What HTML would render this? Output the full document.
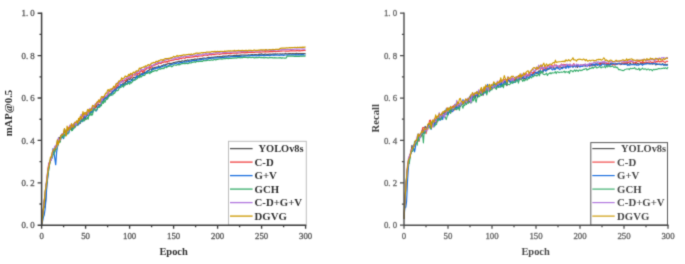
<!DOCTYPE html>
<html lang="en"><head><meta charset="utf-8"><title>Training curves: mAP@0.5 and Recall</title>
<style>
html,body{margin:0;padding:0;background:#fff}
body{width:685px;height:264px;overflow:hidden}
svg{display:block}
text{font-family:"Liberation Serif",serif}
.tk text{font-size:8.8px;stroke-width:.32px}
.lg text{font-size:10.75px;font-weight:bold}
.lg2 text{font-size:10.75px;font-weight:bold}
.ax{font-size:10.7px;font-weight:bold}
</style></head><body>
<svg width="685" height="264" viewBox="0 0 685 264">
<defs><filter id="soft" x="0" y="0" width="685" height="264" filterUnits="userSpaceOnUse" color-interpolation-filters="sRGB"><feConvolveMatrix order="3" kernelMatrix="1 4 1 4 20 4 1 4 1" edgeMode="duplicate" preserveAlpha="false"/></filter></defs>
<g filter="url(#soft)">
<rect width="685" height="264" fill="#fff"/>
<g id="left">
<polyline points="41.6,224.7 42.5,217.5 43.4,209.3 44.2,206.4 45.1,207.0 46.0,194.8 46.9,183.1 47.8,175.1 48.6,166.1 49.5,162.1 50.4,161.4 51.3,158.6 52.2,155.9 53.0,152.0 53.9,152.3 54.8,152.2 55.7,146.2 56.6,145.8 57.4,140.8 58.3,140.0 59.2,137.3 60.1,138.9 61.0,135.5 61.8,137.2 62.7,135.8 63.6,134.2 64.5,128.9 65.4,131.8 66.2,132.0 67.1,131.6 68.0,127.9 68.9,129.1 69.8,127.5 70.6,127.2 71.5,129.9 72.4,125.9 73.3,126.7 74.2,127.6 75.0,124.4 75.9,124.5 76.8,124.1 77.7,123.3 78.6,120.5 79.4,121.9 80.3,123.3 81.2,117.8 82.1,120.9 83.0,119.0 83.8,117.0 84.7,120.4 85.6,117.7 86.5,113.9 87.4,115.1 88.2,115.0 89.1,113.1 90.0,113.6 90.9,111.7 91.8,112.0 92.6,112.3 93.5,108.5 94.4,109.0 95.3,107.3 96.2,107.3 97.0,104.7 97.9,104.8 98.8,104.6 99.7,105.2 100.6,104.7 101.4,100.7 102.3,100.5 103.2,101.5 104.1,97.3 105.0,98.4 105.8,98.0 106.7,98.9 107.6,97.3 108.5,95.2 109.4,94.3 110.2,93.6 111.1,94.9 112.0,91.8 112.9,91.2 113.8,91.1 114.6,89.8 115.5,89.0 116.4,87.3 117.3,87.7 118.2,86.6 119.0,87.6 119.9,86.4 120.8,85.1 121.7,85.2 122.6,83.7 123.4,84.5 124.3,82.9 125.2,83.0 126.1,80.7 127.0,81.7 127.8,79.4 128.7,78.6 129.6,79.7 130.5,78.7 131.4,79.2 132.2,80.5 133.1,77.5 134.0,77.2 134.9,77.5 135.8,77.3 136.6,76.3 137.5,75.9 138.4,76.1 139.3,75.5 140.2,74.0 141.0,74.2 141.9,73.9 142.8,72.7 143.7,73.1 144.6,72.0 145.4,72.8 146.3,71.8 147.2,71.3 148.1,70.5 149.0,70.4 149.8,68.9 150.7,69.0 151.6,69.5 152.5,67.8 153.4,69.0 154.2,67.3 155.1,68.3 156.0,67.1 156.9,67.6 157.8,67.0 158.6,65.9 159.5,67.0 160.4,66.8 161.3,65.8 162.2,65.5 163.0,65.3 163.9,64.7 164.8,65.4 165.7,64.4 166.6,64.4 167.4,63.8 168.3,63.7 169.2,63.2 170.1,64.1 171.0,63.3 171.8,63.5 172.7,63.0 173.6,62.5 174.5,62.5 175.4,62.2 176.2,62.2 177.1,61.9 178.0,61.8 178.9,61.3 179.8,61.3 180.6,62.0 181.5,61.1 182.4,60.8 183.3,61.2 184.2,61.4 185.0,60.3 185.9,60.6 186.8,60.3 187.7,59.9 188.6,60.5 189.4,60.1 190.3,60.0 191.2,59.7 192.1,59.9 193.0,59.5 193.8,59.5 194.7,59.1 195.6,59.0 196.5,59.5 197.4,58.9 198.2,59.0 199.1,58.8 200.0,58.6 200.9,58.5 201.8,58.6 202.6,58.3 203.5,58.2 204.4,58.1 205.3,58.3 206.2,58.1 207.0,57.9 207.9,57.6 208.8,57.3 209.7,57.7 210.6,57.6 211.4,57.3 212.3,57.3 213.2,57.3 214.1,57.2 215.0,57.2 215.8,56.8 216.7,57.1 217.6,56.5 218.5,56.9 219.4,56.7 220.2,56.7 221.1,56.9 222.0,56.7 222.9,56.1 223.8,56.0 224.6,56.4 225.5,56.0 226.4,56.1 227.3,56.2 228.2,55.7 229.0,55.6 229.9,56.0 230.8,55.9 231.7,55.8 232.6,55.8 233.4,55.5 234.3,55.4 235.2,55.6 236.1,55.4 237.0,55.2 237.8,55.5 238.7,55.4 239.6,55.4 240.5,55.1 241.4,55.2 242.2,55.0 243.1,55.0 244.0,55.2 244.9,55.0 245.8,55.1 246.6,55.1 247.5,55.3 248.4,54.7 249.3,55.1 250.2,54.8 251.0,54.8 251.9,54.5 252.8,54.7 253.7,54.8 254.6,54.7 255.4,54.7 256.3,54.6 257.2,54.8 258.1,54.6 259.0,54.2 259.8,54.4 260.7,54.2 261.6,53.9 262.5,54.3 263.4,54.6 264.2,54.4 265.1,54.2 266.0,54.2 266.9,54.5 267.8,54.3 268.6,54.3 269.5,54.2 270.4,54.2 271.3,54.3 272.2,54.2 273.0,54.2 273.9,53.9 274.8,54.1 275.7,53.9 276.6,54.2 277.4,53.8 278.3,54.0 279.2,54.0 280.1,53.7 281.0,54.2 281.8,54.1 282.7,53.8 283.6,54.0 284.5,53.9 285.4,53.4 286.2,53.8 287.1,53.8 288.0,53.8 288.9,53.6 289.8,53.7 290.6,53.7 291.5,53.9 292.4,53.7 293.3,53.7 294.2,53.8 295.0,53.6 295.9,53.6 296.8,53.4 297.7,53.8 298.6,53.7 299.4,53.7 300.3,53.6 301.2,53.6 302.1,53.6 303.0,53.5 303.8,53.5 304.7,53.5 305.6,53.7" fill="none" stroke="#515151" stroke-width="1.2" stroke-linejoin="round"/>
<polyline points="41.6,224.7 42.5,217.0 43.4,208.7 44.2,200.3 45.1,195.2 46.0,186.5 46.9,178.5 47.8,171.3 48.6,164.2 49.5,162.5 50.4,161.5 51.3,156.3 52.2,154.4 53.0,152.6 53.9,151.8 54.8,146.8 55.7,147.6 56.6,144.2 57.4,145.4 58.3,140.2 59.2,141.1 60.1,141.4 61.0,136.5 61.8,134.7 62.7,135.0 63.6,133.6 64.5,130.9 65.4,132.8 66.2,134.9 67.1,130.0 68.0,129.4 68.9,127.1 69.8,128.9 70.6,125.4 71.5,125.0 72.4,128.6 73.3,124.1 74.2,126.8 75.0,126.9 75.9,124.0 76.8,123.7 77.7,125.3 78.6,121.0 79.4,119.5 80.3,117.5 81.2,119.1 82.1,120.6 83.0,119.0 83.8,115.1 84.7,114.5 85.6,114.2 86.5,114.7 87.4,113.1 88.2,112.9 89.1,112.2 90.0,110.5 90.9,110.1 91.8,109.7 92.6,108.4 93.5,108.4 94.4,109.6 95.3,106.9 96.2,105.4 97.0,102.2 97.9,104.2 98.8,100.3 99.7,100.2 100.6,102.4 101.4,101.3 102.3,99.4 103.2,96.5 104.1,97.4 105.0,96.1 105.8,96.9 106.7,98.0 107.6,94.6 108.5,92.6 109.4,91.3 110.2,91.8 111.1,90.8 112.0,88.8 112.9,89.5 113.8,87.3 114.6,89.0 115.5,88.1 116.4,87.4 117.3,85.0 118.2,85.4 119.0,84.0 119.9,83.1 120.8,82.5 121.7,81.0 122.6,80.3 123.4,81.9 124.3,80.4 125.2,80.3 126.1,80.5 127.0,77.5 127.8,77.8 128.7,78.2 129.6,77.9 130.5,76.8 131.4,77.5 132.2,76.3 133.1,74.7 134.0,74.5 134.9,75.4 135.8,74.7 136.6,72.4 137.5,74.5 138.4,73.5 139.3,73.5 140.2,71.8 141.0,71.4 141.9,70.4 142.8,72.5 143.7,70.2 144.6,70.9 145.4,69.0 146.3,69.1 147.2,67.5 148.1,67.9 149.0,68.3 149.8,66.6 150.7,67.6 151.6,66.8 152.5,65.6 153.4,65.6 154.2,65.2 155.1,65.1 156.0,64.5 156.9,64.1 157.8,64.1 158.6,63.4 159.5,63.0 160.4,63.4 161.3,63.5 162.2,62.1 163.0,62.6 163.9,62.1 164.8,61.7 165.7,62.2 166.6,61.4 167.4,62.1 168.3,60.9 169.2,61.1 170.1,60.7 171.0,60.3 171.8,60.6 172.7,60.1 173.6,60.2 174.5,59.8 175.4,59.2 176.2,59.4 177.1,59.3 178.0,59.5 178.9,58.7 179.8,58.8 180.6,58.1 181.5,58.7 182.4,58.0 183.3,57.7 184.2,58.1 185.0,58.3 185.9,57.4 186.8,57.4 187.7,57.4 188.6,57.2 189.4,57.5 190.3,57.1 191.2,57.0 192.1,57.2 193.0,56.7 193.8,56.9 194.7,56.5 195.6,56.3 196.5,56.1 197.4,56.8 198.2,56.2 199.1,56.2 200.0,56.0 200.9,56.0 201.8,55.8 202.6,56.1 203.5,55.4 204.4,55.2 205.3,55.2 206.2,55.0 207.0,55.3 207.9,55.3 208.8,54.8 209.7,54.6 210.6,54.7 211.4,55.0 212.3,54.1 213.2,54.7 214.1,54.3 215.0,54.6 215.8,54.1 216.7,54.2 217.6,53.9 218.5,54.0 219.4,54.4 220.2,54.2 221.1,53.9 222.0,53.8 222.9,53.5 223.8,53.7 224.6,53.7 225.5,53.7 226.4,53.6 227.3,53.4 228.2,53.5 229.0,53.5 229.9,53.7 230.8,53.7 231.7,53.3 232.6,53.2 233.4,53.2 234.3,53.1 235.2,53.0 236.1,53.1 237.0,52.9 237.8,53.1 238.7,53.0 239.6,53.0 240.5,52.9 241.4,52.7 242.2,52.7 243.1,52.7 244.0,52.7 244.9,52.8 245.8,52.7 246.6,52.4 247.5,52.6 248.4,52.3 249.3,52.4 250.2,52.5 251.0,52.1 251.9,52.5 252.8,52.4 253.7,52.3 254.6,52.3 255.4,52.2 256.3,52.1 257.2,52.2 258.1,52.1 259.0,52.1 259.8,51.9 260.7,52.1 261.6,52.0 262.5,51.9 263.4,51.9 264.2,52.0 265.1,51.6 266.0,51.9 266.9,51.8 267.8,51.8 268.6,51.8 269.5,51.6 270.4,51.6 271.3,51.7 272.2,51.6 273.0,51.6 273.9,51.3 274.8,51.5 275.7,51.6 276.6,51.5 277.4,51.4 278.3,51.1 279.2,51.4 280.1,51.2 281.0,50.9 281.8,51.2 282.7,51.0 283.6,51.0 284.5,51.0 285.4,51.2 286.2,51.0 287.1,51.1 288.0,51.2 288.9,51.2 289.8,50.9 290.6,50.9 291.5,50.7 292.4,50.8 293.3,50.9 294.2,50.8 295.0,50.8 295.9,50.9 296.8,50.6 297.7,50.7 298.6,50.8 299.4,50.7 300.3,50.8 301.2,50.7 302.1,50.6 303.0,50.6 303.8,50.4 304.7,50.3 305.6,50.6" fill="none" stroke="#F14040" stroke-width="1.2" stroke-linejoin="round"/>
<polyline points="41.6,224.7 42.5,221.6 43.4,217.1 44.2,215.1 45.1,209.0 46.0,199.2 46.9,184.3 47.8,177.2 48.6,169.3 49.5,164.5 50.4,159.5 51.3,158.2 52.2,157.6 53.0,148.6 53.9,152.4 54.8,158.3 55.7,164.6 56.6,152.5 57.4,147.1 58.3,143.5 59.2,141.8 60.1,141.2 61.0,137.3 61.8,137.0 62.7,137.6 63.6,138.6 64.5,133.7 65.4,133.1 66.2,132.8 67.1,134.2 68.0,131.0 68.9,133.0 69.8,127.9 70.6,128.7 71.5,128.1 72.4,129.2 73.3,129.0 74.2,123.9 75.0,124.3 75.9,125.7 76.8,123.3 77.7,121.2 78.6,124.8 79.4,123.1 80.3,122.4 81.2,120.0 82.1,121.8 83.0,119.0 83.8,120.3 84.7,116.4 85.6,115.8 86.5,116.7 87.4,114.5 88.2,115.8 89.1,114.4 90.0,111.9 90.9,112.6 91.8,111.2 92.6,112.3 93.5,109.3 94.4,108.8 95.3,110.4 96.2,111.0 97.0,109.9 97.9,106.5 98.8,105.9 99.7,106.9 100.6,103.9 101.4,101.9 102.3,102.5 103.2,102.1 104.1,99.7 105.0,97.8 105.8,97.2 106.7,99.0 107.6,96.4 108.5,96.3 109.4,95.9 110.2,95.5 111.1,93.6 112.0,93.8 112.9,91.4 113.8,91.2 114.6,89.7 115.5,91.3 116.4,89.3 117.3,87.9 118.2,87.6 119.0,87.1 119.9,87.4 120.8,84.5 121.7,84.5 122.6,84.6 123.4,86.9 124.3,84.8 125.2,83.3 126.1,83.5 127.0,84.3 127.8,81.7 128.7,81.1 129.6,82.0 130.5,81.0 131.4,80.7 132.2,79.2 133.1,80.8 134.0,80.2 134.9,78.8 135.8,78.5 136.6,75.9 137.5,77.6 138.4,76.5 139.3,76.5 140.2,76.3 141.0,75.1 141.9,73.7 142.8,74.8 143.7,73.6 144.6,73.4 145.4,72.9 146.3,72.6 147.2,71.0 148.1,72.8 149.0,71.8 149.8,71.9 150.7,72.0 151.6,70.5 152.5,69.1 153.4,69.2 154.2,68.7 155.1,68.8 156.0,68.7 156.9,67.4 157.8,68.3 158.6,67.1 159.5,67.7 160.4,67.2 161.3,66.9 162.2,66.7 163.0,66.3 163.9,66.0 164.8,65.3 165.7,65.8 166.6,66.4 167.4,66.2 168.3,65.7 169.2,65.2 170.1,64.4 171.0,65.1 171.8,64.3 172.7,64.1 173.6,63.8 174.5,63.8 175.4,63.4 176.2,63.4 177.1,62.8 178.0,62.9 178.9,63.7 179.8,62.7 180.6,62.5 181.5,62.7 182.4,62.6 183.3,61.8 184.2,62.0 185.0,62.2 185.9,61.9 186.8,61.7 187.7,62.0 188.6,61.2 189.4,61.3 190.3,61.0 191.2,61.4 192.1,60.4 193.0,60.6 193.8,60.5 194.7,60.7 195.6,60.6 196.5,60.6 197.4,59.8 198.2,60.2 199.1,59.9 200.0,59.7 200.9,59.8 201.8,59.4 202.6,59.0 203.5,59.3 204.4,58.9 205.3,59.0 206.2,59.1 207.0,59.0 207.9,59.1 208.8,58.6 209.7,58.3 210.6,58.3 211.4,58.2 212.3,58.0 213.2,58.3 214.1,58.0 215.0,57.6 215.8,58.1 216.7,57.9 217.6,57.9 218.5,57.8 219.4,57.8 220.2,57.6 221.1,57.8 222.0,57.6 222.9,57.5 223.8,57.4 224.6,57.0 225.5,57.2 226.4,57.1 227.3,57.1 228.2,56.8 229.0,57.3 229.9,57.0 230.8,56.6 231.7,56.5 232.6,56.7 233.4,56.7 234.3,56.5 235.2,56.6 236.1,56.4 237.0,56.6 237.8,56.3 238.7,56.4 239.6,56.5 240.5,56.8 241.4,56.1 242.2,56.1 243.1,56.0 244.0,56.3 244.9,55.9 245.8,56.0 246.6,56.0 247.5,55.8 248.4,55.8 249.3,55.8 250.2,55.5 251.0,55.6 251.9,55.7 252.8,55.7 253.7,55.7 254.6,55.4 255.4,55.6 256.3,55.8 257.2,55.7 258.1,55.6 259.0,55.4 259.8,55.6 260.7,55.4 261.6,55.3 262.5,55.3 263.4,55.7 264.2,55.4 265.1,55.6 266.0,55.3 266.9,55.5 267.8,55.2 268.6,55.3 269.5,55.7 270.4,55.4 271.3,55.2 272.2,55.2 273.0,55.2 273.9,55.4 274.8,55.1 275.7,54.9 276.6,55.1 277.4,55.1 278.3,55.1 279.2,55.3 280.1,55.1 281.0,55.1 281.8,54.9 282.7,55.1 283.6,55.3 284.5,55.1 285.4,55.0 286.2,55.0 287.1,55.2 288.0,54.8 288.9,54.9 289.8,54.9 290.6,55.0 291.5,54.8 292.4,54.9 293.3,54.8 294.2,54.8 295.0,54.8 295.9,54.7 296.8,54.8 297.7,54.9 298.6,54.7 299.4,54.8 300.3,54.9 301.2,54.6 302.1,54.8 303.0,54.6 303.8,54.9 304.7,55.0 305.6,55.0" fill="none" stroke="#1A6FDF" stroke-width="1.2" stroke-linejoin="round"/>
<polyline points="41.6,224.7 42.5,218.1 43.4,210.0 44.2,201.8 45.1,196.0 46.0,184.8 46.9,181.3 47.8,173.1 48.6,170.8 49.5,164.5 50.4,159.8 51.3,159.2 52.2,158.0 53.0,154.7 53.9,154.2 54.8,150.6 55.7,145.5 56.6,149.4 57.4,146.7 58.3,143.6 59.2,141.8 60.1,142.2 61.0,137.9 61.8,136.2 62.7,136.0 63.6,137.7 64.5,131.9 65.4,135.9 66.2,131.8 67.1,130.3 68.0,133.9 68.9,130.7 69.8,127.9 70.6,129.0 71.5,130.7 72.4,130.5 73.3,127.0 74.2,127.9 75.0,127.7 75.9,124.7 76.8,125.7 77.7,124.4 78.6,122.8 79.4,122.2 80.3,122.4 81.2,121.6 82.1,120.0 83.0,119.5 83.8,121.2 84.7,119.0 85.6,119.3 86.5,119.1 87.4,117.4 88.2,119.2 89.1,113.7 90.0,115.4 90.9,113.0 91.8,115.4 92.6,114.4 93.5,108.4 94.4,109.1 95.3,110.7 96.2,110.1 97.0,109.3 97.9,107.4 98.8,107.4 99.7,106.9 100.6,105.1 101.4,105.7 102.3,100.6 103.2,103.5 104.1,100.6 105.0,102.3 105.8,99.9 106.7,98.3 107.6,99.0 108.5,96.6 109.4,95.8 110.2,94.2 111.1,95.2 112.0,95.0 112.9,94.8 113.8,92.7 114.6,93.3 115.5,91.4 116.4,90.6 117.3,90.6 118.2,90.4 119.0,88.3 119.9,87.8 120.8,87.3 121.7,86.9 122.6,85.4 123.4,86.8 124.3,84.9 125.2,85.2 126.1,83.5 127.0,84.1 127.8,83.7 128.7,82.5 129.6,84.2 130.5,82.3 131.4,83.0 132.2,81.9 133.1,80.1 134.0,79.9 134.9,80.2 135.8,79.5 136.6,79.0 137.5,78.4 138.4,76.8 139.3,77.6 140.2,75.7 141.0,77.2 141.9,76.0 142.8,75.6 143.7,75.5 144.6,75.4 145.4,73.9 146.3,73.3 147.2,73.4 148.1,72.4 149.0,72.6 149.8,73.7 150.7,71.8 151.6,72.4 152.5,70.9 153.4,71.5 154.2,70.8 155.1,70.6 156.0,70.6 156.9,70.9 157.8,69.8 158.6,69.5 159.5,68.7 160.4,69.2 161.3,68.5 162.2,68.7 163.0,68.1 163.9,68.7 164.8,66.8 165.7,67.3 166.6,67.6 167.4,66.8 168.3,66.4 169.2,66.4 170.1,65.7 171.0,66.2 171.8,66.9 172.7,66.2 173.6,65.1 174.5,65.0 175.4,65.0 176.2,65.4 177.1,64.6 178.0,64.5 178.9,64.9 179.8,64.7 180.6,64.1 181.5,63.7 182.4,63.5 183.3,63.6 184.2,63.0 185.0,63.8 185.9,63.2 186.8,63.4 187.7,63.7 188.6,63.4 189.4,62.5 190.3,63.0 191.2,62.9 192.1,62.3 193.0,62.1 193.8,62.2 194.7,61.7 195.6,62.4 196.5,61.3 197.4,61.5 198.2,61.6 199.1,61.5 200.0,61.4 200.9,61.3 201.8,61.1 202.6,61.3 203.5,60.4 204.4,60.8 205.3,60.5 206.2,60.6 207.0,60.5 207.9,60.1 208.8,60.1 209.7,60.3 210.6,60.1 211.4,59.7 212.3,60.2 213.2,60.2 214.1,59.3 215.0,59.6 215.8,60.0 216.7,59.5 217.6,59.3 218.5,59.2 219.4,59.0 220.2,59.0 221.1,58.9 222.0,59.1 222.9,58.8 223.8,58.7 224.6,58.5 225.5,58.7 226.4,58.4 227.3,58.5 228.2,58.7 229.0,58.5 229.9,58.5 230.8,58.4 231.7,58.3 232.6,58.2 233.4,58.1 234.3,58.2 235.2,57.8 236.1,58.2 237.0,57.9 237.8,57.7 238.7,57.7 239.6,57.7 240.5,57.8 241.4,57.5 242.2,57.8 243.1,57.4 244.0,57.1 244.9,57.4 245.8,57.2 246.6,57.5 247.5,57.7 248.4,57.6 249.3,57.2 250.2,57.3 251.0,57.7 251.9,57.5 252.8,57.4 253.7,57.6 254.6,57.9 255.4,57.7 256.3,57.5 257.2,57.6 258.1,57.6 259.0,57.4 259.8,57.4 260.7,57.6 261.6,57.4 262.5,57.6 263.4,57.6 264.2,58.0 265.1,57.5 266.0,57.6 266.9,57.6 267.8,57.8 268.6,57.9 269.5,57.7 270.4,57.6 271.3,57.5 272.2,57.6 273.0,57.9 273.9,57.8 274.8,57.7 275.7,57.8 276.6,57.9 277.4,58.0 278.3,57.8 279.2,57.9 280.1,57.7 281.0,57.8 281.8,58.3 282.7,57.7 283.6,58.0 284.5,58.1 285.4,58.1 286.2,58.0 287.1,56.2 288.0,56.2 288.9,56.2 289.8,56.0 290.6,56.2 291.5,56.1 292.4,56.1 293.3,56.2 294.2,56.3 295.0,56.3 295.9,56.1 296.8,56.3 297.7,56.3 298.6,56.3 299.4,56.4 300.3,56.2 301.2,56.2 302.1,56.3 303.0,56.0 303.8,56.2 304.7,56.1 305.6,56.2" fill="none" stroke="#37AD6B" stroke-width="1.2" stroke-linejoin="round"/>
<polyline points="41.6,224.7 42.5,216.3 43.4,209.0 44.2,201.7 45.1,194.2 46.0,185.4 46.9,177.8 47.8,170.1 48.6,167.0 49.5,161.8 50.4,160.5 51.3,160.3 52.2,154.4 53.0,149.6 53.9,149.4 54.8,146.6 55.7,145.3 56.6,148.1 57.4,143.7 58.3,138.2 59.2,140.8 60.1,140.5 61.0,135.9 61.8,134.1 62.7,133.6 63.6,133.7 64.5,133.5 65.4,133.7 66.2,132.9 67.1,132.2 68.0,131.7 68.9,129.7 69.8,125.0 70.6,126.9 71.5,127.0 72.4,125.1 73.3,126.7 74.2,123.7 75.0,122.1 75.9,125.4 76.8,123.3 77.7,121.8 78.6,122.2 79.4,121.6 80.3,119.6 81.2,114.3 82.1,116.4 83.0,115.9 83.8,114.3 84.7,115.4 85.6,116.1 86.5,112.7 87.4,110.9 88.2,114.8 89.1,110.3 90.0,108.3 90.9,109.6 91.8,109.1 92.6,106.6 93.5,107.9 94.4,105.3 95.3,103.8 96.2,104.5 97.0,104.5 97.9,101.8 98.8,102.3 99.7,100.9 100.6,103.9 101.4,98.4 102.3,100.3 103.2,97.6 104.1,96.6 105.0,96.8 105.8,96.1 106.7,95.7 107.6,93.7 108.5,91.7 109.4,90.9 110.2,91.3 111.1,90.5 112.0,90.6 112.9,88.6 113.8,88.5 114.6,88.2 115.5,86.0 116.4,83.5 117.3,83.1 118.2,82.1 119.0,84.6 119.9,81.4 120.8,82.9 121.7,81.6 122.6,82.1 123.4,80.9 124.3,79.3 125.2,78.6 126.1,78.4 127.0,77.9 127.8,76.8 128.7,76.7 129.6,77.7 130.5,74.3 131.4,75.5 132.2,74.1 133.1,74.5 134.0,74.6 134.9,73.4 135.8,73.6 136.6,71.3 137.5,72.9 138.4,71.2 139.3,71.6 140.2,70.8 141.0,68.4 141.9,69.3 142.8,69.5 143.7,69.9 144.6,68.6 145.4,68.1 146.3,66.6 147.2,68.0 148.1,67.8 149.0,66.3 149.8,65.7 150.7,64.5 151.6,65.6 152.5,66.2 153.4,64.7 154.2,64.7 155.1,63.9 156.0,62.8 156.9,63.7 157.8,62.1 158.6,62.3 159.5,62.3 160.4,62.3 161.3,61.8 162.2,61.5 163.0,60.8 163.9,60.3 164.8,60.6 165.7,60.1 166.6,59.6 167.4,59.4 168.3,59.5 169.2,58.7 170.1,58.7 171.0,58.4 171.8,58.9 172.7,58.8 173.6,59.3 174.5,57.7 175.4,57.9 176.2,58.3 177.1,57.7 178.0,57.5 178.9,58.1 179.8,57.2 180.6,56.8 181.5,56.6 182.4,57.0 183.3,56.9 184.2,56.2 185.0,56.2 185.9,56.5 186.8,56.4 187.7,56.0 188.6,56.2 189.4,56.1 190.3,55.3 191.2,55.6 192.1,55.7 193.0,55.3 193.8,54.8 194.7,55.2 195.6,55.3 196.5,55.4 197.4,54.4 198.2,55.4 199.1,54.5 200.0,54.8 200.9,54.8 201.8,54.6 202.6,54.3 203.5,53.9 204.4,54.2 205.3,53.8 206.2,53.3 207.0,54.4 207.9,53.8 208.8,54.0 209.7,53.3 210.6,53.7 211.4,53.7 212.3,53.6 213.2,53.2 214.1,52.9 215.0,53.0 215.8,52.5 216.7,52.6 217.6,52.9 218.5,52.6 219.4,52.7 220.2,52.7 221.1,53.0 222.0,52.8 222.9,52.5 223.8,52.7 224.6,52.3 225.5,52.3 226.4,52.5 227.3,52.0 228.2,52.2 229.0,51.9 229.9,52.1 230.8,52.4 231.7,51.9 232.6,52.0 233.4,51.8 234.3,51.7 235.2,51.6 236.1,52.1 237.0,52.2 237.8,51.8 238.7,51.6 239.6,51.8 240.5,51.6 241.4,51.7 242.2,51.6 243.1,51.6 244.0,51.6 244.9,51.3 245.8,51.3 246.6,51.1 247.5,51.3 248.4,51.1 249.3,51.2 250.2,51.1 251.0,51.2 251.9,51.3 252.8,50.9 253.7,51.0 254.6,50.9 255.4,51.1 256.3,51.2 257.2,51.1 258.1,50.8 259.0,51.1 259.8,50.5 260.7,51.0 261.6,50.6 262.5,50.2 263.4,51.0 264.2,50.8 265.1,50.4 266.0,50.5 266.9,50.4 267.8,50.4 268.6,50.1 269.5,50.2 270.4,50.3 271.3,50.3 272.2,50.4 273.0,50.1 273.9,50.4 274.8,49.9 275.7,50.1 276.6,49.7 277.4,49.8 278.3,50.1 279.2,49.7 280.1,49.9 281.0,49.8 281.8,49.6 282.7,49.7 283.6,49.6 284.5,49.6 285.4,49.7 286.2,49.7 287.1,49.4 288.0,49.4 288.9,49.5 289.8,49.4 290.6,49.5 291.5,49.7 292.4,49.4 293.3,49.3 294.2,49.2 295.0,49.1 295.9,49.1 296.8,49.0 297.7,49.1 298.6,49.1 299.4,49.2 300.3,49.0 301.2,49.0 302.1,48.9 303.0,49.2 303.8,49.0 304.7,49.1 305.6,49.0" fill="none" stroke="#B177DE" stroke-width="1.2" stroke-linejoin="round"/>
<polyline points="41.6,224.7 42.5,216.6 43.4,209.5 44.2,203.5 45.1,191.1 46.0,187.0 46.9,180.7 47.8,172.1 48.6,167.4 49.5,164.6 50.4,157.4 51.3,157.1 52.2,152.2 53.0,150.8 53.9,149.4 54.8,148.8 55.7,147.5 56.6,145.9 57.4,139.9 58.3,144.7 59.2,141.4 60.1,139.0 61.0,135.5 61.8,134.7 62.7,134.8 63.6,133.5 64.5,128.6 65.4,132.4 66.2,135.8 67.1,126.0 68.0,130.6 68.9,128.7 69.8,127.1 70.6,129.1 71.5,123.7 72.4,125.5 73.3,127.1 74.2,123.4 75.0,122.3 75.9,122.5 76.8,120.7 77.7,123.4 78.6,118.4 79.4,120.7 80.3,116.3 81.2,118.7 82.1,116.6 83.0,111.7 83.8,115.1 84.7,112.6 85.6,112.7 86.5,115.1 87.4,110.0 88.2,109.3 89.1,112.3 90.0,109.4 90.9,110.7 91.8,108.0 92.6,105.4 93.5,105.7 94.4,106.8 95.3,105.5 96.2,103.3 97.0,102.5 97.9,101.5 98.8,100.0 99.7,102.6 100.6,99.1 101.4,96.7 102.3,96.8 103.2,97.5 104.1,96.5 105.0,94.6 105.8,93.1 106.7,93.1 107.6,90.1 108.5,89.7 109.4,91.4 110.2,89.0 111.1,89.1 112.0,89.3 112.9,87.8 113.8,86.2 114.6,87.8 115.5,85.4 116.4,83.5 117.3,83.9 118.2,82.8 119.0,80.8 119.9,81.1 120.8,80.3 121.7,77.8 122.6,79.1 123.4,78.4 124.3,77.7 125.2,76.0 126.1,76.7 127.0,76.4 127.8,76.1 128.7,74.4 129.6,75.5 130.5,73.4 131.4,73.8 132.2,74.6 133.1,72.4 134.0,72.1 134.9,73.0 135.8,71.3 136.6,70.9 137.5,70.9 138.4,71.0 139.3,68.1 140.2,68.7 141.0,68.1 141.9,67.6 142.8,67.3 143.7,66.9 144.6,67.2 145.4,65.9 146.3,66.1 147.2,65.9 148.1,64.7 149.0,64.9 149.8,65.4 150.7,64.2 151.6,63.2 152.5,63.2 153.4,62.4 154.2,62.7 155.1,62.6 156.0,61.4 156.9,61.4 157.8,61.8 158.6,60.7 159.5,60.8 160.4,59.9 161.3,59.8 162.2,59.6 163.0,60.6 163.9,59.2 164.8,58.9 165.7,58.6 166.6,58.6 167.4,58.7 168.3,58.3 169.2,58.9 170.1,57.9 171.0,58.2 171.8,57.5 172.7,57.4 173.6,56.4 174.5,56.8 175.4,56.6 176.2,56.4 177.1,55.5 178.0,56.4 178.9,55.8 179.8,55.7 180.6,55.6 181.5,55.4 182.4,55.5 183.3,54.8 184.2,54.8 185.0,55.1 185.9,54.9 186.8,54.7 187.7,54.5 188.6,54.3 189.4,54.4 190.3,54.7 191.2,53.9 192.1,54.5 193.0,54.2 193.8,53.8 194.7,54.0 195.6,53.3 196.5,53.2 197.4,53.2 198.2,53.3 199.1,53.2 200.0,53.1 200.9,53.1 201.8,52.5 202.6,53.0 203.5,52.5 204.4,52.5 205.3,52.5 206.2,52.2 207.0,52.1 207.9,52.1 208.8,52.2 209.7,52.2 210.6,52.1 211.4,51.7 212.3,51.7 213.2,51.6 214.1,51.8 215.0,51.3 215.8,51.9 216.7,51.5 217.6,51.3 218.5,51.5 219.4,51.6 220.2,51.4 221.1,51.5 222.0,51.3 222.9,51.5 223.8,51.5 224.6,51.1 225.5,51.4 226.4,51.1 227.3,51.1 228.2,50.9 229.0,50.9 229.9,51.1 230.8,50.7 231.7,51.0 232.6,50.9 233.4,50.9 234.3,50.4 235.2,50.8 236.1,50.9 237.0,50.6 237.8,50.7 238.7,50.3 239.6,50.8 240.5,50.5 241.4,50.8 242.2,50.3 243.1,50.7 244.0,50.5 244.9,50.7 245.8,50.4 246.6,50.4 247.5,50.9 248.4,50.3 249.3,50.3 250.2,50.4 251.0,50.3 251.9,50.6 252.8,50.7 253.7,50.2 254.6,50.0 255.4,50.5 256.3,50.4 257.2,50.3 258.1,50.4 259.0,50.0 259.8,50.1 260.7,49.8 261.6,49.8 262.5,50.1 263.4,49.8 264.2,50.3 265.1,49.9 266.0,49.7 266.9,49.9 267.8,50.0 268.6,49.8 269.5,49.5 270.4,49.7 271.3,49.8 272.2,49.5 273.0,49.4 273.9,49.7 274.8,49.5 275.7,49.3 276.6,49.4 277.4,49.3 278.3,49.4 279.2,49.3 280.1,48.4 281.0,48.3 281.8,48.0 282.7,48.2 283.6,48.2 284.5,48.1 285.4,48.2 286.2,47.9 287.1,47.8 288.0,48.0 288.9,47.7 289.8,47.5 290.6,47.9 291.5,47.6 292.4,47.7 293.3,47.5 294.2,47.5 295.0,47.4 295.9,47.5 296.8,47.6 297.7,47.2 298.6,47.5 299.4,47.3 300.3,47.3 301.2,47.4 302.1,47.3 303.0,47.1 303.8,47.5 304.7,47.1 305.6,47.2" fill="none" stroke="#CC9900" stroke-width="1.2" stroke-linejoin="round"/>
<rect x="228.5" y="141.3" width="77.8" height="83.9" fill="#fff" stroke="#bdbdbd" stroke-width="1"/>
<g class="lg" fill="#2e2e2e">
<path d="M230.0 148.6H252.6" stroke="#515151" stroke-width="1.3" fill="none"/>
<text x="258.6" y="152.2" textLength="45" lengthAdjust="spacingAndGlyphs">YOLOv8s</text>
<path d="M230.0 162.1H252.6" stroke="#F14040" stroke-width="1.3" fill="none"/>
<text x="254.6" y="165.7">C-D</text>
<path d="M230.0 175.6H252.6" stroke="#1A6FDF" stroke-width="1.3" fill="none"/>
<text x="254.6" y="179.2">G+V</text>
<path d="M230.0 189.1H252.6" stroke="#37AD6B" stroke-width="1.3" fill="none"/>
<text x="254.6" y="192.7">GCH</text>
<path d="M230.0 202.6H252.6" stroke="#B177DE" stroke-width="1.3" fill="none"/>
<text x="254.6" y="206.2">C-D+G+V</text>
<path d="M230.0 216.1H252.6" stroke="#CC9900" stroke-width="1.3" fill="none"/>
<text x="254.6" y="219.7">DGVG</text>
</g>
<path d="M41.6 12.6V225.2H306.2" fill="none" stroke="#3c3c3c" stroke-width="1.5"/>
<path d="M41.6 225.2h-4.0M41.6 204.0h-2.1M41.6 182.8h-4.0M41.6 161.6h-2.1M41.6 140.4h-4.0M41.6 119.2h-2.1M41.6 98.0h-4.0M41.6 76.8h-2.1M41.6 55.6h-4.0M41.6 34.4h-2.1M41.6 13.2h-4.0M41.6 225.2v3.6M63.6 225.2v2.0M85.6 225.2v3.6M107.6 225.2v2.0M129.6 225.2v3.6M151.6 225.2v2.0M173.6 225.2v3.6M195.6 225.2v2.0M217.6 225.2v3.6M239.6 225.2v2.0M261.6 225.2v3.6M283.6 225.2v2.0M305.6 225.2v3.6" fill="none" stroke="#3c3c3c" stroke-width="1.35"/>
<g class="tk" fill="#5a5a5a" stroke="#5a5a5a">
<text transform="translate(34.7 228.4) scale(1 1)" text-anchor="end" xml:space="preserve">0. 0</text>
<text transform="translate(34.7 186.0) scale(1 1)" text-anchor="end" xml:space="preserve">0. 2</text>
<text transform="translate(34.7 143.6) scale(1 1)" text-anchor="end" xml:space="preserve">0. 4</text>
<text transform="translate(34.7 101.2) scale(1 1)" text-anchor="end" xml:space="preserve">0. 6</text>
<text transform="translate(34.7 58.8) scale(1 1)" text-anchor="end" xml:space="preserve">0. 8</text>
<text transform="translate(34.7 16.4) scale(1 1)" text-anchor="end" xml:space="preserve">1. 0</text>
<text transform="translate(41.6 239.3) scale(1 1)" text-anchor="middle">0</text>
<text transform="translate(85.6 239.3) scale(1 1)" text-anchor="middle">50</text>
<text transform="translate(129.6 239.3) scale(1 1)" text-anchor="middle">100</text>
<text transform="translate(173.6 239.3) scale(1 1)" text-anchor="middle">150</text>
<text transform="translate(217.6 239.3) scale(1 1)" text-anchor="middle">200</text>
<text transform="translate(261.6 239.3) scale(1 1)" text-anchor="middle">250</text>
<text transform="translate(305.6 239.3) scale(1 1)" text-anchor="middle">300</text>
</g>
<text class="ax" fill="#2e2e2e" transform="translate(11.6 136.3) rotate(-90)">mAP@0.5</text>
<text class="ax" fill="#2e2e2e" x="173.6" y="254.9" text-anchor="middle" style="font-size:10.45px">Epoch</text>
</g>
<g id="right">
<polyline points="404.0,219.0 404.9,202.9 405.8,189.3 406.6,176.2 407.5,167.3 408.4,161.0 409.3,158.6 410.2,153.9 411.0,153.1 411.9,145.2 412.8,151.0 413.7,145.9 414.6,145.9 415.4,142.6 416.3,140.5 417.2,140.8 418.1,140.2 419.0,136.6 419.8,135.3 420.7,136.0 421.6,131.9 422.5,129.6 423.4,132.8 424.2,129.7 425.1,126.3 426.0,127.7 426.9,127.6 427.8,125.3 428.6,123.8 429.5,126.3 430.4,127.3 431.3,124.2 432.2,122.4 433.0,124.1 433.9,124.0 434.8,121.1 435.7,122.1 436.6,122.5 437.4,119.5 438.3,117.8 439.2,119.7 440.1,118.7 441.0,119.5 441.8,114.1 442.7,114.6 443.6,113.6 444.5,111.1 445.4,114.3 446.2,114.4 447.1,111.2 448.0,114.6 448.9,112.8 449.8,111.8 450.6,110.9 451.5,111.6 452.4,106.6 453.3,109.8 454.2,109.2 455.0,104.2 455.9,107.6 456.8,106.2 457.7,107.6 458.6,104.9 459.4,105.2 460.3,105.3 461.2,102.5 462.1,104.8 463.0,103.0 463.8,103.6 464.7,101.1 465.6,103.6 466.5,102.2 467.4,100.3 468.2,101.1 469.1,101.6 470.0,102.0 470.9,95.4 471.8,99.4 472.6,98.1 473.5,96.7 474.4,94.5 475.3,98.2 476.2,93.3 477.0,96.0 477.9,96.7 478.8,91.2 479.7,92.9 480.6,90.7 481.4,92.9 482.3,94.8 483.2,95.2 484.1,87.9 485.0,89.7 485.8,91.5 486.7,92.7 487.6,90.4 488.5,88.0 489.4,89.3 490.2,88.5 491.1,87.9 492.0,86.6 492.9,88.0 493.8,87.5 494.6,86.4 495.5,85.7 496.4,83.4 497.3,84.2 498.2,86.5 499.0,84.0 499.9,81.6 500.8,85.7 501.7,84.2 502.6,86.2 503.4,83.0 504.3,81.9 505.2,80.2 506.1,84.1 507.0,85.6 507.8,80.5 508.7,80.5 509.6,82.0 510.5,79.9 511.4,80.2 512.2,79.7 513.1,80.4 514.0,81.1 514.9,79.4 515.8,80.5 516.6,78.5 517.5,79.6 518.4,75.9 519.3,76.5 520.2,79.3 521.0,77.2 521.9,78.6 522.8,78.4 523.7,79.2 524.6,78.5 525.4,78.5 526.3,76.8 527.2,75.5 528.1,75.0 529.0,74.9 529.8,74.1 530.7,74.5 531.6,74.7 532.5,74.7 533.4,73.4 534.2,71.2 535.1,73.0 536.0,72.9 536.9,73.5 537.8,72.8 538.6,71.0 539.5,70.8 540.4,73.2 541.3,71.6 542.2,72.3 543.0,72.4 543.9,69.4 544.8,70.3 545.7,70.1 546.6,69.9 547.4,69.8 548.3,69.2 549.2,69.0 550.1,67.3 551.0,68.1 551.8,67.5 552.7,68.0 553.6,67.4 554.5,68.3 555.4,68.3 556.2,67.7 557.1,67.7 558.0,67.4 558.9,67.0 559.8,67.3 560.6,66.8 561.5,67.6 562.4,67.3 563.3,67.7 564.2,66.2 565.0,67.7 565.9,66.3 566.8,66.3 567.7,66.6 568.6,66.2 569.4,66.6 570.3,66.0 571.2,65.8 572.1,65.8 573.0,67.2 573.8,66.2 574.7,65.3 575.6,66.2 576.5,65.2 577.4,67.5 578.2,65.0 579.1,66.4 580.0,66.4 580.9,64.9 581.8,65.7 582.6,66.2 583.5,65.7 584.4,65.7 585.3,66.2 586.2,65.3 587.0,65.3 587.9,64.7 588.8,65.2 589.7,64.0 590.6,65.2 591.4,64.3 592.3,64.1 593.2,64.8 594.1,65.4 595.0,64.6 595.8,63.6 596.7,64.5 597.6,63.9 598.5,64.2 599.4,64.3 600.2,62.5 601.1,64.1 602.0,63.1 602.9,63.2 603.8,62.9 604.6,63.1 605.5,63.7 606.4,64.7 607.3,65.2 608.2,64.2 609.0,64.7 609.9,64.0 610.8,63.2 611.7,64.4 612.6,64.7 613.4,64.2 614.3,64.6 615.2,64.7 616.1,63.7 617.0,63.4 617.8,64.0 618.7,63.8 619.6,63.7 620.5,64.4 621.4,64.5 622.2,63.1 623.1,63.7 624.0,63.9 624.9,63.5 625.8,63.7 626.6,63.0 627.5,63.6 628.4,64.7 629.3,64.1 630.2,63.1 631.0,63.9 631.9,64.3 632.8,64.0 633.7,63.5 634.6,64.8 635.4,63.5 636.3,64.2 637.2,63.8 638.1,63.3 639.0,64.4 639.8,64.0 640.7,63.1 641.6,64.1 642.5,63.5 643.4,62.6 644.2,63.2 645.1,63.2 646.0,63.4 646.9,63.7 647.8,63.4 648.6,63.6 649.5,63.3 650.4,63.9 651.3,63.6 652.2,63.9 653.0,64.1 653.9,63.2 654.8,63.7 655.7,65.0 656.6,64.5 657.4,64.2 658.3,64.5 659.2,64.1 660.1,64.5 661.0,64.1 661.8,64.7 662.7,63.5 663.6,65.2 664.5,64.4 665.4,64.0 666.2,65.0 667.1,64.5 668.0,64.3" fill="none" stroke="#515151" stroke-width="1.1" stroke-linejoin="round"/>
<polyline points="404.0,219.0 404.9,201.2 405.8,187.3 406.6,178.5 407.5,165.1 408.4,161.6 409.3,156.5 410.2,154.8 411.0,152.1 411.9,148.1 412.8,147.8 413.7,144.9 414.6,145.1 415.4,142.3 416.3,139.6 417.2,139.4 418.1,138.7 419.0,141.5 419.8,134.3 420.7,134.9 421.6,136.2 422.5,127.7 423.4,127.5 424.2,127.7 425.1,129.0 426.0,133.7 426.9,128.6 427.8,129.5 428.6,125.9 429.5,120.5 430.4,120.1 431.3,126.1 432.2,123.8 433.0,120.0 433.9,124.3 434.8,118.3 435.7,123.1 436.6,122.8 437.4,117.6 438.3,116.3 439.2,119.4 440.1,114.9 441.0,118.0 441.8,113.1 442.7,116.3 443.6,114.2 444.5,112.4 445.4,110.8 446.2,112.5 447.1,107.7 448.0,110.3 448.9,109.4 449.8,110.9 450.6,106.5 451.5,112.0 452.4,107.7 453.3,105.6 454.2,109.9 455.0,109.9 455.9,105.9 456.8,104.1 457.7,105.4 458.6,103.6 459.4,103.8 460.3,106.7 461.2,103.8 462.1,102.8 463.0,102.8 463.8,101.5 464.7,102.6 465.6,102.1 466.5,99.3 467.4,99.4 468.2,103.2 469.1,99.0 470.0,97.4 470.9,101.1 471.8,97.2 472.6,94.6 473.5,97.2 474.4,93.7 475.3,94.1 476.2,95.2 477.0,93.8 477.9,92.5 478.8,92.3 479.7,91.6 480.6,94.3 481.4,90.6 482.3,90.5 483.2,94.4 484.1,89.4 485.0,92.5 485.8,91.7 486.7,88.7 487.6,86.2 488.5,88.8 489.4,88.8 490.2,89.0 491.1,87.0 492.0,88.4 492.9,88.2 493.8,83.8 494.6,87.7 495.5,85.4 496.4,83.8 497.3,83.8 498.2,87.0 499.0,85.1 499.9,80.4 500.8,83.0 501.7,82.4 502.6,82.1 503.4,81.2 504.3,79.5 505.2,82.7 506.1,79.6 507.0,80.1 507.8,79.6 508.7,79.0 509.6,81.1 510.5,80.3 511.4,78.6 512.2,77.9 513.1,78.4 514.0,80.3 514.9,78.9 515.8,79.1 516.6,78.0 517.5,78.0 518.4,78.2 519.3,75.3 520.2,79.7 521.0,76.4 521.9,76.3 522.8,78.3 523.7,76.6 524.6,76.0 525.4,75.1 526.3,73.4 527.2,75.3 528.1,76.1 529.0,73.4 529.8,75.7 530.7,72.2 531.6,72.2 532.5,73.3 533.4,72.4 534.2,72.6 535.1,70.8 536.0,70.0 536.9,68.7 537.8,69.0 538.6,68.7 539.5,68.0 540.4,69.5 541.3,68.3 542.2,66.7 543.0,70.9 543.9,67.5 544.8,66.8 545.7,68.7 546.6,68.3 547.4,66.0 548.3,65.5 549.2,65.8 550.1,67.7 551.0,66.3 551.8,65.6 552.7,66.1 553.6,66.9 554.5,64.7 555.4,65.6 556.2,64.8 557.1,67.4 558.0,67.1 558.9,66.5 559.8,65.6 560.6,66.1 561.5,63.9 562.4,65.6 563.3,64.4 564.2,64.5 565.0,64.8 565.9,64.5 566.8,65.1 567.7,65.4 568.6,65.0 569.4,64.3 570.3,65.6 571.2,65.2 572.1,66.3 573.0,65.0 573.8,63.6 574.7,65.2 575.6,67.0 576.5,66.2 577.4,65.8 578.2,66.6 579.1,66.2 580.0,66.1 580.9,65.1 581.8,65.4 582.6,65.3 583.5,64.7 584.4,64.4 585.3,65.1 586.2,65.4 587.0,65.2 587.9,65.1 588.8,65.0 589.7,66.4 590.6,64.8 591.4,65.5 592.3,65.8 593.2,64.7 594.1,64.5 595.0,65.1 595.8,65.4 596.7,64.6 597.6,64.6 598.5,64.4 599.4,63.4 600.2,64.8 601.1,63.8 602.0,62.4 602.9,63.5 603.8,62.2 604.6,63.0 605.5,63.5 606.4,63.1 607.3,64.3 608.2,62.9 609.0,63.9 609.9,64.2 610.8,64.8 611.7,64.6 612.6,64.6 613.4,64.7 614.3,64.6 615.2,65.0 616.1,63.7 617.0,64.1 617.8,63.8 618.7,63.8 619.6,63.4 620.5,64.7 621.4,62.9 622.2,63.3 623.1,63.1 624.0,62.9 624.9,62.9 625.8,62.8 626.6,63.4 627.5,61.9 628.4,62.6 629.3,61.7 630.2,62.3 631.0,61.5 631.9,61.5 632.8,62.3 633.7,63.0 634.6,62.7 635.4,62.3 636.3,63.0 637.2,61.3 638.1,60.7 639.0,61.7 639.8,61.7 640.7,62.6 641.6,63.0 642.5,61.2 643.4,62.9 644.2,62.5 645.1,62.2 646.0,61.9 646.9,63.2 647.8,62.2 648.6,61.9 649.5,62.3 650.4,61.6 651.3,62.4 652.2,62.3 653.0,62.4 653.9,62.2 654.8,61.2 655.7,62.5 656.6,61.3 657.4,61.9 658.3,60.7 659.2,61.9 660.1,61.4 661.0,61.8 661.8,61.6 662.7,60.7 663.6,61.5 664.5,62.2 665.4,62.5 666.2,61.4 667.1,61.1 668.0,61.8" fill="none" stroke="#F14040" stroke-width="1.1" stroke-linejoin="round"/>
<polyline points="404.0,219.0 404.9,207.0 405.8,207.3 406.6,201.6 407.5,181.6 408.4,167.7 409.3,160.3 410.2,156.9 411.0,152.1 411.9,151.1 412.8,146.2 413.7,147.5 414.6,151.9 415.4,147.7 416.3,141.2 417.2,138.9 418.1,134.0 419.0,135.3 419.8,136.6 420.7,134.7 421.6,132.8 422.5,133.6 423.4,133.3 424.2,132.9 425.1,128.5 426.0,129.5 426.9,127.9 427.8,126.1 428.6,123.9 429.5,126.3 430.4,123.9 431.3,129.3 432.2,124.0 433.0,123.1 433.9,122.0 434.8,125.9 435.7,119.7 436.6,120.5 437.4,118.7 438.3,119.4 439.2,119.1 440.1,120.5 441.0,114.8 441.8,117.0 442.7,119.6 443.6,114.8 444.5,114.8 445.4,112.8 446.2,108.7 447.1,113.2 448.0,115.1 448.9,111.4 449.8,107.9 450.6,111.4 451.5,110.5 452.4,111.7 453.3,110.9 454.2,108.0 455.0,108.8 455.9,104.0 456.8,109.1 457.7,106.7 458.6,107.9 459.4,107.3 460.3,104.5 461.2,104.2 462.1,102.2 463.0,99.6 463.8,102.6 464.7,102.5 465.6,99.7 466.5,102.6 467.4,100.8 468.2,101.0 469.1,98.2 470.0,96.1 470.9,100.1 471.8,99.3 472.6,97.4 473.5,96.2 474.4,96.2 475.3,96.0 476.2,94.9 477.0,91.6 477.9,96.3 478.8,91.7 479.7,93.3 480.6,92.7 481.4,93.3 482.3,89.6 483.2,94.2 484.1,92.9 485.0,92.5 485.8,92.9 486.7,88.7 487.6,84.4 488.5,89.8 489.4,91.1 490.2,90.6 491.1,87.0 492.0,87.4 492.9,87.7 493.8,83.8 494.6,85.3 495.5,84.8 496.4,88.2 497.3,84.3 498.2,87.4 499.0,84.6 499.9,81.5 500.8,87.4 501.7,82.2 502.6,84.5 503.4,85.7 504.3,82.2 505.2,81.0 506.1,84.2 507.0,82.5 507.8,80.4 508.7,80.3 509.6,80.9 510.5,82.6 511.4,80.7 512.2,81.7 513.1,83.0 514.0,82.2 514.9,81.9 515.8,81.4 516.6,77.4 517.5,81.0 518.4,79.4 519.3,78.7 520.2,77.5 521.0,76.8 521.9,77.1 522.8,78.4 523.7,76.6 524.6,76.9 525.4,77.2 526.3,78.5 527.2,77.0 528.1,76.9 529.0,78.5 529.8,76.1 530.7,76.6 531.6,74.3 532.5,75.5 533.4,74.9 534.2,74.6 535.1,73.4 536.0,72.2 536.9,72.6 537.8,72.0 538.6,73.4 539.5,73.1 540.4,70.6 541.3,72.3 542.2,70.8 543.0,71.5 543.9,70.2 544.8,69.0 545.7,71.2 546.6,70.6 547.4,68.7 548.3,68.0 549.2,69.0 550.1,67.9 551.0,68.7 551.8,69.4 552.7,69.9 553.6,68.5 554.5,69.6 555.4,69.5 556.2,68.1 557.1,66.8 558.0,68.8 558.9,68.5 559.8,69.7 560.6,68.9 561.5,68.2 562.4,68.7 563.3,66.9 564.2,67.5 565.0,67.3 565.9,68.4 566.8,67.5 567.7,65.0 568.6,68.0 569.4,66.3 570.3,67.1 571.2,66.2 572.1,66.7 573.0,67.0 573.8,66.3 574.7,65.7 575.6,67.0 576.5,66.3 577.4,65.8 578.2,66.3 579.1,65.6 580.0,67.1 580.9,66.1 581.8,66.4 582.6,66.4 583.5,65.2 584.4,65.0 585.3,65.8 586.2,65.7 587.0,66.4 587.9,65.9 588.8,64.8 589.7,65.4 590.6,65.7 591.4,65.7 592.3,65.1 593.2,63.9 594.1,65.6 595.0,64.1 595.8,65.0 596.7,63.9 597.6,65.4 598.5,64.3 599.4,65.3 600.2,66.0 601.1,65.6 602.0,64.1 602.9,64.1 603.8,64.2 604.6,65.1 605.5,65.0 606.4,64.8 607.3,64.8 608.2,64.9 609.0,64.8 609.9,65.4 610.8,64.1 611.7,64.3 612.6,63.1 613.4,63.5 614.3,63.9 615.2,63.6 616.1,64.2 617.0,64.4 617.8,63.3 618.7,63.2 619.6,63.5 620.5,64.1 621.4,63.7 622.2,64.0 623.1,64.2 624.0,64.2 624.9,64.4 625.8,64.0 626.6,64.2 627.5,65.4 628.4,64.6 629.3,65.3 630.2,64.9 631.0,64.6 631.9,64.7 632.8,64.6 633.7,64.8 634.6,64.4 635.4,64.4 636.3,65.3 637.2,64.7 638.1,65.4 639.0,64.8 639.8,64.7 640.7,63.8 641.6,64.3 642.5,65.3 643.4,64.2 644.2,64.4 645.1,63.8 646.0,64.2 646.9,63.2 647.8,63.2 648.6,63.8 649.5,64.1 650.4,63.5 651.3,63.7 652.2,63.5 653.0,63.8 653.9,63.4 654.8,63.4 655.7,64.3 656.6,63.6 657.4,64.0 658.3,64.2 659.2,64.1 660.1,64.8 661.0,64.7 661.8,64.8 662.7,64.3 663.6,64.6 664.5,65.2 665.4,65.2 666.2,65.0 667.1,65.3 668.0,65.3" fill="none" stroke="#1A6FDF" stroke-width="1.1" stroke-linejoin="round"/>
<polyline points="404.0,219.0 404.9,200.4 405.8,187.1 406.6,177.5 407.5,169.0 408.4,162.5 409.3,163.5 410.2,156.8 411.0,151.7 411.9,151.5 412.8,151.2 413.7,147.4 414.6,141.3 415.4,143.7 416.3,142.0 417.2,145.1 418.1,135.0 419.0,140.9 419.8,136.1 420.7,137.3 421.6,133.7 422.5,133.8 423.4,142.9 424.2,131.9 425.1,133.1 426.0,130.0 426.9,128.3 427.8,127.9 428.6,126.7 429.5,126.7 430.4,129.0 431.3,123.2 432.2,121.4 433.0,124.1 433.9,127.0 434.8,125.0 435.7,124.9 436.6,124.2 437.4,119.7 438.3,120.9 439.2,114.5 440.1,118.0 441.0,119.7 441.8,114.7 442.7,113.0 443.6,113.9 444.5,116.1 445.4,117.4 446.2,119.6 447.1,116.7 448.0,110.3 448.9,108.0 449.8,112.3 450.6,113.4 451.5,107.6 452.4,109.2 453.3,108.9 454.2,109.3 455.0,108.5 455.9,109.4 456.8,109.8 457.7,107.4 458.6,108.2 459.4,110.3 460.3,104.2 461.2,103.6 462.1,106.1 463.0,108.2 463.8,104.5 464.7,105.7 465.6,102.8 466.5,104.5 467.4,101.3 468.2,103.2 469.1,102.3 470.0,101.9 470.9,103.1 471.8,102.1 472.6,98.6 473.5,100.8 474.4,95.7 475.3,100.0 476.2,102.2 477.0,97.7 477.9,97.2 478.8,95.8 479.7,96.7 480.6,93.8 481.4,95.4 482.3,93.4 483.2,92.5 484.1,93.0 485.0,92.1 485.8,88.6 486.7,95.0 487.6,91.3 488.5,87.5 489.4,91.9 490.2,89.7 491.1,89.6 492.0,89.9 492.9,86.9 493.8,83.4 494.6,87.8 495.5,88.1 496.4,89.3 497.3,86.3 498.2,86.6 499.0,87.5 499.9,86.2 500.8,86.0 501.7,86.4 502.6,84.4 503.4,87.8 504.3,83.6 505.2,84.7 506.1,83.8 507.0,82.9 507.8,84.2 508.7,84.5 509.6,84.8 510.5,83.4 511.4,81.8 512.2,83.5 513.1,79.9 514.0,81.9 514.9,82.4 515.8,82.2 516.6,79.8 517.5,79.1 518.4,83.2 519.3,80.2 520.2,78.6 521.0,78.8 521.9,80.0 522.8,81.4 523.7,79.6 524.6,80.9 525.4,79.4 526.3,79.7 527.2,80.1 528.1,78.3 529.0,78.8 529.8,77.6 530.7,76.8 531.6,78.0 532.5,76.1 533.4,76.7 534.2,75.4 535.1,75.7 536.0,74.8 536.9,76.1 537.8,74.7 538.6,74.4 539.5,75.8 540.4,71.3 541.3,73.1 542.2,71.3 543.0,74.1 543.9,74.5 544.8,74.6 545.7,74.1 546.6,73.1 547.4,75.5 548.3,74.0 549.2,73.6 550.1,72.7 551.0,73.8 551.8,72.9 552.7,72.8 553.6,73.0 554.5,72.7 555.4,71.7 556.2,73.6 557.1,71.8 558.0,71.8 558.9,72.7 559.8,72.3 560.6,72.2 561.5,71.9 562.4,72.3 563.3,71.9 564.2,71.1 565.0,72.8 565.9,71.6 566.8,71.9 567.7,72.3 568.6,71.5 569.4,73.5 570.3,70.3 571.2,70.7 572.1,70.9 573.0,71.9 573.8,70.8 574.7,69.9 575.6,71.4 576.5,70.1 577.4,70.6 578.2,71.3 579.1,70.1 580.0,70.0 580.9,70.7 581.8,70.1 582.6,70.2 583.5,69.2 584.4,69.5 585.3,68.7 586.2,68.5 587.0,70.2 587.9,69.3 588.8,69.4 589.7,68.1 590.6,68.5 591.4,68.2 592.3,67.1 593.2,68.4 594.1,67.0 595.0,67.2 595.8,66.5 596.7,67.9 597.6,67.8 598.5,67.3 599.4,66.6 600.2,66.9 601.1,68.0 602.0,66.8 602.9,67.2 603.8,67.0 604.6,66.5 605.5,67.8 606.4,65.6 607.3,66.9 608.2,66.4 609.0,65.6 609.9,66.6 610.8,66.6 611.7,66.5 612.6,66.0 613.4,66.9 614.3,67.4 615.2,66.7 616.1,67.7 617.0,67.0 617.8,68.1 618.7,69.6 619.6,69.6 620.5,69.7 621.4,70.2 622.2,70.2 623.1,70.7 624.0,70.3 624.9,69.5 625.8,69.3 626.6,69.0 627.5,69.0 628.4,68.9 629.3,69.6 630.2,68.4 631.0,68.4 631.9,68.7 632.8,68.3 633.7,68.5 634.6,67.5 635.4,69.0 636.3,68.9 637.2,69.5 638.1,69.3 639.0,68.1 639.8,70.4 640.7,69.2 641.6,69.2 642.5,68.0 643.4,69.3 644.2,69.3 645.1,68.7 646.0,69.2 646.9,70.0 647.8,69.0 648.6,69.0 649.5,70.1 650.4,69.5 651.3,69.5 652.2,70.8 653.0,69.8 653.9,69.3 654.8,69.9 655.7,69.3 656.6,69.4 657.4,69.3 658.3,68.6 659.2,68.6 660.1,68.7 661.0,68.7 661.8,68.4 662.7,68.5 663.6,68.1 664.5,68.5 665.4,67.8 666.2,68.2 667.1,68.8 668.0,67.1" fill="none" stroke="#37AD6B" stroke-width="1.1" stroke-linejoin="round"/>
<polyline points="404.0,219.0 404.9,201.2 405.8,187.0 406.6,178.1 407.5,169.0 408.4,158.4 409.3,156.1 410.2,154.6 411.0,149.5 411.9,150.3 412.8,147.5 413.7,146.5 414.6,143.6 415.4,142.7 416.3,141.7 417.2,135.9 418.1,135.6 419.0,133.9 419.8,138.6 420.7,134.6 421.6,133.8 422.5,132.4 423.4,130.1 424.2,128.8 425.1,131.2 426.0,127.9 426.9,131.2 427.8,127.5 428.6,126.5 429.5,125.3 430.4,124.6 431.3,123.9 432.2,126.3 433.0,127.2 433.9,119.3 434.8,121.5 435.7,121.8 436.6,117.9 437.4,117.6 438.3,117.3 439.2,112.6 440.1,117.8 441.0,115.9 441.8,115.3 442.7,114.8 443.6,114.4 444.5,117.8 445.4,113.0 446.2,113.5 447.1,110.1 448.0,111.3 448.9,109.4 449.8,109.3 450.6,107.4 451.5,107.0 452.4,108.7 453.3,108.8 454.2,107.6 455.0,104.9 455.9,106.2 456.8,100.3 457.7,106.4 458.6,104.1 459.4,104.1 460.3,105.3 461.2,101.9 462.1,104.0 463.0,100.9 463.8,102.2 464.7,100.2 465.6,101.1 466.5,102.7 467.4,98.4 468.2,98.0 469.1,98.1 470.0,98.9 470.9,102.8 471.8,96.3 472.6,93.1 473.5,95.2 474.4,93.0 475.3,94.2 476.2,94.7 477.0,92.2 477.9,92.2 478.8,89.7 479.7,92.8 480.6,90.6 481.4,93.3 482.3,92.6 483.2,88.7 484.1,89.0 485.0,89.2 485.8,90.1 486.7,85.4 487.6,87.8 488.5,90.8 489.4,87.2 490.2,87.4 491.1,86.6 492.0,84.2 492.9,87.6 493.8,86.1 494.6,85.7 495.5,86.2 496.4,85.7 497.3,81.0 498.2,84.7 499.0,82.5 499.9,83.2 500.8,81.4 501.7,80.8 502.6,83.4 503.4,81.4 504.3,80.5 505.2,80.4 506.1,80.7 507.0,80.3 507.8,76.6 508.7,78.4 509.6,79.1 510.5,80.3 511.4,80.8 512.2,77.3 513.1,80.9 514.0,78.3 514.9,78.6 515.8,76.8 516.6,76.5 517.5,78.9 518.4,76.6 519.3,76.5 520.2,77.8 521.0,78.2 521.9,73.9 522.8,75.3 523.7,75.3 524.6,77.1 525.4,77.7 526.3,74.4 527.2,74.6 528.1,75.0 529.0,75.1 529.8,72.9 530.7,73.8 531.6,71.4 532.5,68.8 533.4,69.6 534.2,71.0 535.1,71.3 536.0,67.5 536.9,67.4 537.8,68.9 538.6,65.1 539.5,68.5 540.4,68.8 541.3,64.7 542.2,68.4 543.0,67.1 543.9,68.8 544.8,67.5 545.7,66.7 546.6,67.0 547.4,67.7 548.3,66.9 549.2,66.6 550.1,65.3 551.0,67.0 551.8,66.3 552.7,67.7 553.6,66.1 554.5,65.8 555.4,65.4 556.2,66.4 557.1,65.7 558.0,65.4 558.9,67.1 559.8,67.0 560.6,65.1 561.5,64.6 562.4,66.1 563.3,64.7 564.2,67.1 565.0,65.0 565.9,65.8 566.8,64.0 567.7,64.7 568.6,65.3 569.4,64.6 570.3,64.1 571.2,66.2 572.1,65.0 573.0,64.7 573.8,64.5 574.7,64.9 575.6,65.8 576.5,64.1 577.4,64.9 578.2,64.3 579.1,65.7 580.0,64.8 580.9,65.5 581.8,65.5 582.6,64.7 583.5,65.2 584.4,65.3 585.3,63.8 586.2,64.9 587.0,66.7 587.9,64.0 588.8,64.6 589.7,63.1 590.6,64.1 591.4,63.2 592.3,63.6 593.2,63.0 594.1,62.0 595.0,63.3 595.8,62.3 596.7,61.8 597.6,62.5 598.5,61.7 599.4,62.5 600.2,62.3 601.1,62.0 602.0,62.7 602.9,61.4 603.8,62.8 604.6,61.1 605.5,63.3 606.4,62.2 607.3,61.8 608.2,61.7 609.0,62.4 609.9,61.8 610.8,61.5 611.7,62.4 612.6,61.5 613.4,61.6 614.3,61.9 615.2,62.1 616.1,61.4 617.0,61.5 617.8,61.3 618.7,61.6 619.6,62.1 620.5,60.8 621.4,61.1 622.2,61.0 623.1,61.1 624.0,61.8 624.9,61.0 625.8,61.2 626.6,61.9 627.5,60.5 628.4,60.7 629.3,60.7 630.2,60.9 631.0,60.9 631.9,60.6 632.8,62.0 633.7,60.5 634.6,60.5 635.4,61.0 636.3,60.7 637.2,60.0 638.1,60.3 639.0,60.5 639.8,60.1 640.7,60.6 641.6,59.9 642.5,60.3 643.4,59.2 644.2,59.5 645.1,59.5 646.0,60.9 646.9,60.2 647.8,60.5 648.6,59.7 649.5,60.1 650.4,60.0 651.3,59.4 652.2,60.0 653.0,58.7 653.9,60.0 654.8,61.3 655.7,59.3 656.6,59.6 657.4,58.5 658.3,59.0 659.2,57.9 660.1,59.2 661.0,58.6 661.8,57.6 662.7,57.9 663.6,57.5 664.5,58.0 665.4,58.6 666.2,57.9 667.1,57.6 668.0,57.6" fill="none" stroke="#B177DE" stroke-width="1.1" stroke-linejoin="round"/>
<polyline points="404.0,219.0 404.9,200.1 405.8,187.6 406.6,176.4 407.5,168.2 408.4,160.0 409.3,158.6 410.2,157.0 411.0,151.4 411.9,149.8 412.8,147.3 413.7,146.8 414.6,143.7 415.4,140.6 416.3,140.5 417.2,138.8 418.1,133.9 419.0,136.4 419.8,134.7 420.7,133.9 421.6,131.3 422.5,132.4 423.4,131.7 424.2,128.1 425.1,129.4 426.0,129.5 426.9,128.7 427.8,124.3 428.6,123.4 429.5,124.6 430.4,121.7 431.3,128.1 432.2,120.7 433.0,120.0 433.9,122.4 434.8,119.4 435.7,114.9 436.6,118.5 437.4,116.1 438.3,116.6 439.2,113.7 440.1,114.4 441.0,115.1 441.8,114.5 442.7,111.7 443.6,111.9 444.5,110.8 445.4,112.0 446.2,110.8 447.1,108.1 448.0,111.2 448.9,108.0 449.8,109.5 450.6,106.4 451.5,108.2 452.4,107.0 453.3,107.0 454.2,107.2 455.0,106.5 455.9,105.5 456.8,105.0 457.7,101.9 458.6,103.5 459.4,99.0 460.3,98.4 461.2,101.6 462.1,101.3 463.0,103.8 463.8,101.5 464.7,101.9 465.6,98.9 466.5,99.9 467.4,100.7 468.2,99.0 469.1,98.1 470.0,97.1 470.9,94.7 471.8,94.1 472.6,92.6 473.5,95.4 474.4,93.8 475.3,92.5 476.2,93.7 477.0,91.4 477.9,93.7 478.8,94.7 479.7,91.8 480.6,89.2 481.4,87.4 482.3,92.9 483.2,89.8 484.1,86.6 485.0,90.1 485.8,84.9 486.7,86.7 487.6,86.7 488.5,86.1 489.4,84.2 490.2,89.7 491.1,84.6 492.0,85.5 492.9,84.7 493.8,81.7 494.6,83.0 495.5,83.8 496.4,84.8 497.3,82.2 498.2,83.0 499.0,81.4 499.9,82.7 500.8,77.7 501.7,82.0 502.6,79.8 503.4,79.4 504.3,75.6 505.2,78.0 506.1,80.1 507.0,82.2 507.8,77.6 508.7,77.3 509.6,78.7 510.5,78.0 511.4,76.2 512.2,76.6 513.1,76.0 514.0,77.3 514.9,77.6 515.8,78.7 516.6,77.2 517.5,76.7 518.4,75.8 519.3,76.6 520.2,73.7 521.0,77.6 521.9,75.0 522.8,76.0 523.7,72.8 524.6,74.7 525.4,73.1 526.3,72.1 527.2,71.2 528.1,70.7 529.0,73.4 529.8,72.2 530.7,70.8 531.6,70.4 532.5,69.1 533.4,67.8 534.2,67.5 535.1,68.4 536.0,68.7 536.9,67.1 537.8,68.8 538.6,68.0 539.5,67.2 540.4,65.1 541.3,66.3 542.2,66.2 543.0,64.5 543.9,63.1 544.8,66.8 545.7,65.2 546.6,63.9 547.4,65.8 548.3,65.1 549.2,64.5 550.1,64.0 551.0,64.2 551.8,64.4 552.7,63.0 553.6,62.5 554.5,63.1 555.4,60.1 556.2,62.5 557.1,62.1 558.0,62.0 558.9,61.7 559.8,61.8 560.6,61.7 561.5,61.5 562.4,61.4 563.3,61.6 564.2,60.8 565.0,61.9 565.9,59.7 566.8,60.8 567.7,60.9 568.6,59.7 569.4,60.3 570.3,61.2 571.2,59.9 572.1,59.3 573.0,57.7 573.8,60.0 574.7,59.9 575.6,60.0 576.5,61.2 577.4,59.6 578.2,59.6 579.1,59.0 580.0,59.4 580.9,59.4 581.8,59.8 582.6,59.9 583.5,59.0 584.4,59.5 585.3,60.8 586.2,59.4 587.0,60.5 587.9,61.2 588.8,60.6 589.7,60.2 590.6,61.0 591.4,60.3 592.3,60.2 593.2,60.1 594.1,61.0 595.0,60.4 595.8,60.9 596.7,59.7 597.6,59.6 598.5,59.4 599.4,59.6 600.2,59.2 601.1,60.2 602.0,59.7 602.9,59.1 603.8,57.8 604.6,58.6 605.5,60.8 606.4,59.8 607.3,60.6 608.2,61.1 609.0,61.6 609.9,60.2 610.8,60.1 611.7,60.4 612.6,61.5 613.4,61.7 614.3,61.5 615.2,60.9 616.1,60.2 617.0,61.4 617.8,60.9 618.7,61.0 619.6,60.9 620.5,60.8 621.4,60.4 622.2,60.1 623.1,59.7 624.0,60.5 624.9,60.2 625.8,60.6 626.6,58.7 627.5,60.5 628.4,59.6 629.3,59.4 630.2,59.2 631.0,59.0 631.9,58.9 632.8,60.3 633.7,59.8 634.6,60.3 635.4,60.5 636.3,60.0 637.2,60.2 638.1,60.0 639.0,60.7 639.8,60.4 640.7,60.2 641.6,60.4 642.5,59.8 643.4,61.1 644.2,59.1 645.1,60.2 646.0,60.1 646.9,58.5 647.8,59.6 648.6,59.4 649.5,59.7 650.4,58.1 651.3,59.1 652.2,58.6 653.0,59.0 653.9,60.0 654.8,59.0 655.7,58.2 656.6,58.6 657.4,58.9 658.3,60.0 659.2,58.9 660.1,58.4 661.0,60.3 661.8,59.7 662.7,59.5 663.6,58.5 664.5,59.6 665.4,59.0 666.2,57.9 667.1,58.3 668.0,58.4" fill="none" stroke="#CC9900" stroke-width="1.1" stroke-linejoin="round"/>
<rect x="590.8" y="142.6" width="76.7" height="82.6" fill="#fff" stroke="#5a5a5a" stroke-width="1"/>
<g class="lg2" fill="#444">
<path d="M592.3 148.6H614.7" stroke="#515151" stroke-width="1.15" fill="none"/>
<text x="621.1" y="152.2" textLength="45" lengthAdjust="spacingAndGlyphs">YOLOv8s</text>
<path d="M592.3 162.1H614.7" stroke="#F14040" stroke-width="1.15" fill="none"/>
<text x="617.1" y="165.7">C-D</text>
<path d="M592.3 175.6H614.7" stroke="#1A6FDF" stroke-width="1.15" fill="none"/>
<text x="617.1" y="179.2">G+V</text>
<path d="M592.3 189.1H614.7" stroke="#37AD6B" stroke-width="1.15" fill="none"/>
<text x="617.1" y="192.7">GCH</text>
<path d="M592.3 202.6H614.7" stroke="#B177DE" stroke-width="1.15" fill="none"/>
<text x="617.1" y="206.2">C-D+G+V</text>
<path d="M592.3 216.1H614.7" stroke="#CC9900" stroke-width="1.15" fill="none"/>
<text x="617.1" y="219.7">DGVG</text>
</g>
<path d="M404.0 12.6V225.2H668.6" fill="none" stroke="#4a4a4a" stroke-width="1.4"/>
<path d="M404.0 225.2h-4.0M404.0 204.0h-2.1M404.0 182.8h-4.0M404.0 161.6h-2.1M404.0 140.4h-4.0M404.0 119.2h-2.1M404.0 98.0h-4.0M404.0 76.8h-2.1M404.0 55.6h-4.0M404.0 34.4h-2.1M404.0 13.2h-4.0M404.0 225.2v3.6M426.0 225.2v2.0M448.0 225.2v3.6M470.0 225.2v2.0M492.0 225.2v3.6M514.0 225.2v2.0M536.0 225.2v3.6M558.0 225.2v2.0M580.0 225.2v3.6M602.0 225.2v2.0M624.0 225.2v3.6M646.0 225.2v2.0M668.0 225.2v3.6" fill="none" stroke="#4a4a4a" stroke-width="1.25"/>
<g class="tk" fill="#666" stroke="#666">
<text transform="translate(397.1 228.4) scale(1 1)" text-anchor="end" xml:space="preserve">0. 0</text>
<text transform="translate(397.1 186.0) scale(1 1)" text-anchor="end" xml:space="preserve">0. 2</text>
<text transform="translate(397.1 143.6) scale(1 1)" text-anchor="end" xml:space="preserve">0. 4</text>
<text transform="translate(397.1 101.2) scale(1 1)" text-anchor="end" xml:space="preserve">0. 6</text>
<text transform="translate(397.1 58.8) scale(1 1)" text-anchor="end" xml:space="preserve">0. 8</text>
<text transform="translate(397.1 16.4) scale(1 1)" text-anchor="end" xml:space="preserve">1. 0</text>
<text transform="translate(404.0 239.3) scale(1 1)" text-anchor="middle">0</text>
<text transform="translate(448.0 239.3) scale(1 1)" text-anchor="middle">50</text>
<text transform="translate(492.0 239.3) scale(1 1)" text-anchor="middle">100</text>
<text transform="translate(536.0 239.3) scale(1 1)" text-anchor="middle">150</text>
<text transform="translate(580.0 239.3) scale(1 1)" text-anchor="middle">200</text>
<text transform="translate(624.0 239.3) scale(1 1)" text-anchor="middle">250</text>
<text transform="translate(668.0 239.3) scale(1 1)" text-anchor="middle">300</text>
</g>
<text class="ax" fill="#444" transform="translate(379.2 132.5) rotate(-90)">Recall</text>
<text class="ax" fill="#484848" x="535.6" y="254.9" text-anchor="middle" style="font-size:10.45px">Epoch</text>
</g>
</g>
</svg>
</body></html>
